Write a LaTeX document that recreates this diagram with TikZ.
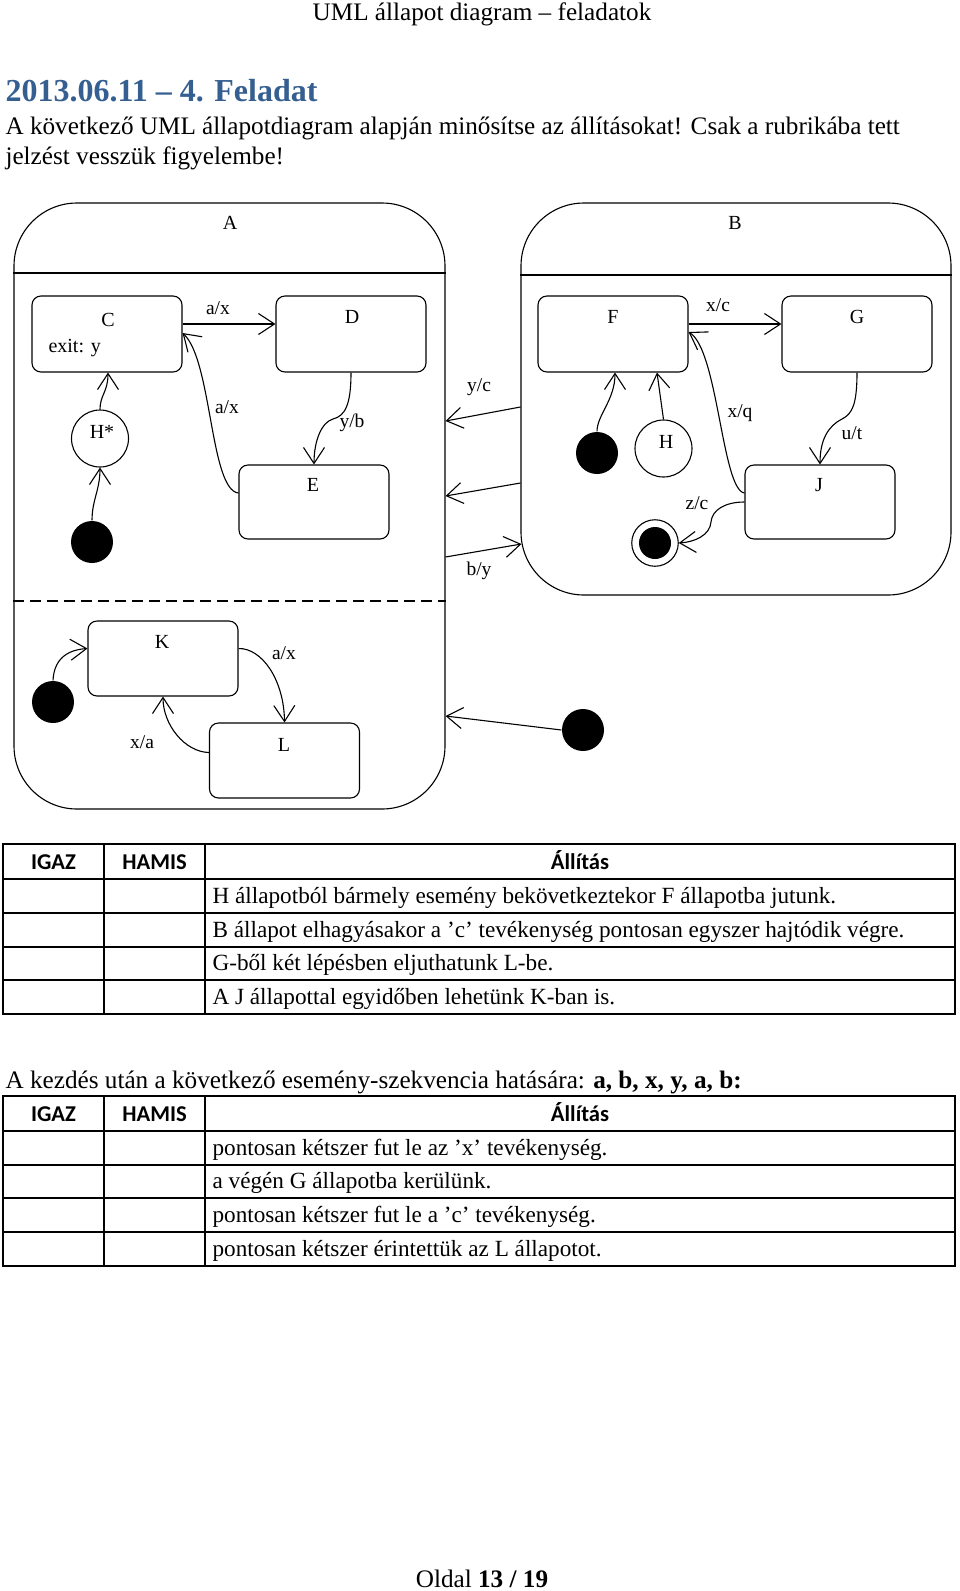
\documentclass[tikz,border=0pt]{standalone}
\usepackage{fontspec}
\setmainfont{Liberation Serif}
\newfontfamily\calibri{Carlito}
\usetikzlibrary{arrows.meta}
\definecolor{headblue}{RGB}{54,95,145}
\begin{document}
\begin{tikzpicture}[x=1pt,y=-1pt,
  line width=1.1pt,
  st/.style={draw, rounded corners=9pt, minimum width=150pt, minimum height=75pt, inner sep=0},
  cont/.style={draw, rounded corners=63pt, inner sep=0},
  tr/.style={-{Straight Barb[length=16pt,width=21pt]}},
  lbl/.style={font=\fontsize{19.5}{22}\selectfont, inner sep=0},
  sname/.style={font=\fontsize{20}{22}\selectfont, inner sep=0},
  initst/.style={circle, fill=black, minimum size=42pt, inner sep=0},
  hist/.style={circle, draw, minimum size=57pt, inner sep=0},
  txt/.style={font=\fontsize{25.2}{30}\selectfont, inner sep=0, anchor=base west},
  ttxt/.style={font=\fontsize{23.2}{27}\selectfont, inner sep=0, anchor=base west},
  thead/.style={font=\calibri\bfseries\fontsize{22.6}{27}\selectfont, inner sep=0, anchor=base},
  tline/.style={line width=1.6pt},
]
\fill[white] (0,0) rectangle (960,1591);
\useasboundingbox (0,0) rectangle (960,1591);

% ---------- page texts ----------
\node[txt, anchor=base] (hdr) at (482,20) {UML állapot diagram – feladatok};
\node[txt, font=\bfseries\fontsize{32}{36}\selectfont, text=headblue] (ttl) at (5,101) {2013.06.11 – 4. Feladat};
\node[txt] (p1) at (5,134) {A következő UML állapotdiagram alapján minősítse az állításokat! Csak a rubrikába tett};
\node[txt] (p2) at (5,164) {jelzést vesszük figyelembe!};

% ---------- containers ----------
\node[cont, minimum width=431pt, minimum height=606pt] (A) at (229.5,506) {};
\node[cont, minimum width=430pt, minimum height=392pt] (B) at (736,399) {};
\draw (A.west |- 0,273) -- (A.east |- 0,273);
\draw (B.west |- 0,275) -- (B.east |- 0,275);
\draw[dash pattern=on 11pt off 6pt] (A.west |- 0,601) -- (A.east |- 0,601);
\node[sname] (Alab) at (230,223) {A};
\node[sname] (Blab) at (735,223) {B};

% ---------- states ----------
\node[st, minimum height=76pt] (C) at (107,334) {};
\node[st, minimum height=76pt] (D) at (351,334) {};
\node[st, minimum height=74pt] (E) at (314,502) {};
\node[st, minimum height=76pt] (F) at (613,334) {};
\node[st, minimum height=76pt] (G) at (857,334) {};
\node[st, minimum height=74pt] (J) at (820,502) {};
\node[st] (K) at (163,658.5) {};
\node[st] (L) at (284.5,760.5) {};
\node[sname] (Ct) at (108,320) {C};
\node[sname, anchor=base west] (Cx) at (48,352) {exit: y};
\node[sname] (Dt) at (352,317) {D};
\node[sname] (Et) at (313,485) {E};
\node[sname] (Ft) at (613,317) {F};
\node[sname] (Gt) at (857,317) {G};
\node[sname] (Jt) at (819,485) {J};
\node[sname] (Kt) at (162,642) {K};
\node[sname] (Lt) at (284,745) {L};

% pseudo states
\node[initst] (i1) at (92,542) {};
\node[hist] (Hs) at (100,438.5) {};
\node[sname] (Hst) at (102,432) {H*};
\node[initst] (i2) at (597,453) {};
\node[hist] (H) at (663.5,448.5) {};
\node[sname] (Ht) at (666,442) {H};
\node[circle, draw, minimum size=46.5pt, inner sep=0] (fin) at (655,543) {};
\node[circle, fill=black, minimum size=32pt, inner sep=0] (finin) at (fin) {};
\node[initst] (i3) at (53,702) {};
\node[initst] (i4) at (583,730) {};

% ---------- transitions in A ----------
\draw[tr] ([yshift=10pt]C.east) -- ([yshift=10pt]D.west);
\node[lbl] (l1) at (218,308) {a/x};
\draw[tr] ([yshift=9pt]E.west) .. controls (210,490) and (212,360) .. ([yshift=1pt]C.east);
\node[lbl] (l2) at (227,407) {a/x};
\draw[tr] (D.south) .. controls (351,405) and (345,416) .. (333,419) .. controls (322,422) and (314,440) .. (E.north);
\node[lbl] (l3) at (352,423) {y/b};
\draw[tr] (Hs.north) .. controls (100,395) and (108,392) .. ([xshift=1pt]C.south);
\draw[tr] (i1.north) .. controls (92,500) and (100,490) .. (Hs.south);

% ---------- transitions between A and B ----------
\draw[tr] ([yshift=-8pt]B.west) -- ([yshift=85pt]A.east);
\node[lbl] (l4) at (479,387) {y/c};
\draw[tr] ([yshift=-84pt]B.west) -- ([yshift=10pt]A.east);
\draw[tr] ([yshift=-51pt]A.east) -- ([xshift=1pt,yshift=-145pt]B.west);
\node[lbl] (l5) at (479,571) {b/y};
\draw[tr] (i4.west) -- ([yshift=-210pt]A.east);

% ---------- transitions in B ----------
\draw[tr] ([yshift=10pt]F.east) -- ([yshift=10pt]G.west);
\node[lbl] (l6) at (718,305) {x/c};
\draw[tr] ([yshift=9pt]J.west) .. controls (722,490) and (718,350) .. ([yshift=2pt]F.east);
\node[lbl] (l7) at (740,413) {x/q};
\draw[tr] (G.south) .. controls (857,405) and (852,414) .. (842,419) .. controls (828,426) and (820,440) .. (J.north);
\node[lbl] (l8) at (852,433) {u/t};
\draw[tr] (J.west) .. controls (725,502) and (712,510) .. (711,522) .. controls (710,535) and (695,542) .. (fin.east);
\node[lbl] (l9) at (697,503) {z/c};
\draw[tr] (i2.north) .. controls (597,415) and (615,400) .. ([xshift=2pt]F.south);
\draw[tr] (H.north) -- ([xshift=44pt]F.south);

% ---------- transitions in lower region of A ----------
\draw[tr] (i3.north) .. controls (54,660) and (66,650) .. ([yshift=10pt]K.west);
\draw[tr] ([yshift=10pt]K.east) .. controls (262,648) and (284,680) .. (L.north);
\node[lbl] (l10) at (284,653) {a/x};
\draw[tr] ([yshift=8pt]L.west) .. controls (185,752) and (163,725) .. (K.south);
\node[lbl] (l11) at (142,742) {x/a};

% ---------- table 1 ----------
\draw[tline] (3,844) rectangle (955,1014);
\foreach \yy in {879,913,947,980} \draw[tline] (3,\yy) -- (955,\yy);
\draw[tline] (104,844) -- (104,1014);
\draw[tline] (205,844) -- (205,1014);
\node[thead] (t1a) at (53.5,869) {IGAZ};
\node[thead] (t1b) at (154.5,869) {HAMIS};
\node[thead] (t1c) at (580,869) {Állítás};
\node[ttxt] (r11) at (212,903) {H állapotból bármely esemény bekövetkeztekor F állapotba jutunk.};
\node[ttxt] (r12) at (212,937) {B állapot elhagyásakor a ’c’ tevékenység pontosan egyszer hajtódik végre.};
\node[ttxt] (r13) at (212,970.5) {G-ből két lépésben eljuthatunk L-be.};
\node[ttxt] (r14) at (212,1004) {A J állapottal egyidőben lehetünk K-ban is.};

% ---------- middle text ----------
\node[txt] (p3) at (5,1088) {A kezdés után a következő esemény-szekvencia hatására: \textbf{a, b, x, y, a, b:}};

% ---------- table 2 ----------
\draw[tline] (3,1096) rectangle (955,1266);
\foreach \yy in {1131,1165,1198,1232} \draw[tline] (3,\yy) -- (955,\yy);
\draw[tline] (104,1096) -- (104,1266);
\draw[tline] (205,1096) -- (205,1266);
\node[thead] (t2a) at (53.5,1121) {IGAZ};
\node[thead] (t2b) at (154.5,1121) {HAMIS};
\node[thead] (t2c) at (580,1121) {Állítás};
\node[ttxt] (r21) at (212,1155) {pontosan kétszer fut le az ’x’ tevékenység.};
\node[ttxt] (r22) at (212,1188.5) {a végén G állapotba kerülünk.};
\node[ttxt] (r23) at (212,1222) {pontosan kétszer fut le a ’c’ tevékenység.};
\node[ttxt] (r24) at (212,1256) {pontosan kétszer érintettük az L állapotot.};

% ---------- footer ----------
\node[txt, anchor=base] (ftr) at (482,1587) {Oldal \textbf{13 / 19}};
\end{tikzpicture}
\end{document}
